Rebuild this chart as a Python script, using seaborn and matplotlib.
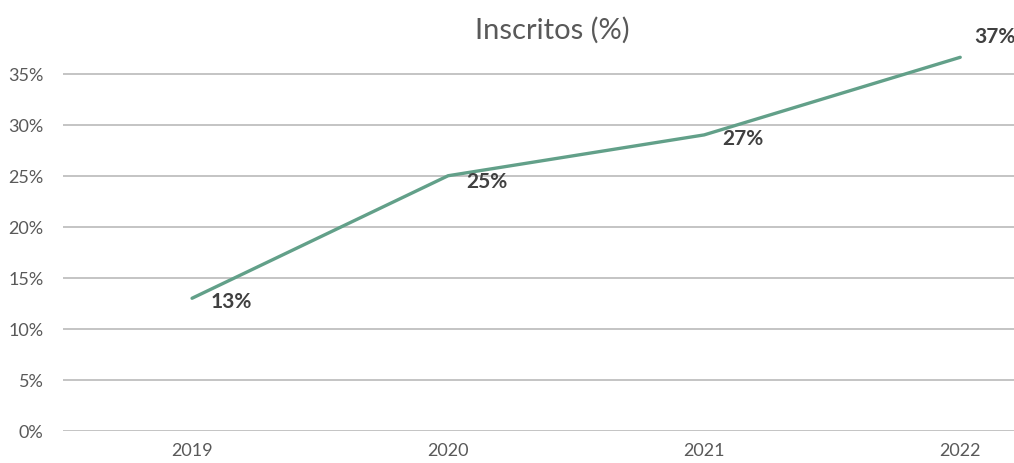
import matplotlib
matplotlib.use("Agg")
import matplotlib.pyplot as plt
import matplotlib.ticker as mtick
import seaborn as sns
import pandas as pd

years = ["2019", "2020", "2021", "2022"]
inscritos = [0.13, 0.25, 0.29, 0.366]
point_labels = ["13%", "25%", "27%", "37%"]

df = pd.DataFrame({"year": range(len(years)), "inscritos": inscritos})

sns.set_theme(style="white")
plt.rcParams["font.family"] = ["Lato", "DejaVu Sans"]

fig = plt.figure(figsize=(10.14, 4.64), dpi=100)
ax = fig.add_axes([63 / 1014, 32 / 464, 951 / 1014, 388 / 464])

sns.lineplot(data=df, x="year", y="inscritos", color="#62a089", linewidth=2.4, ax=ax)

ax.set_xlim(-0.504, 3.21)
ax.set_ylim(0, 0.38)
ax.set_xticks(range(len(years)))
ax.set_xticklabels(years)
ax.set_yticks([0, 0.05, 0.10, 0.15, 0.20, 0.25, 0.30, 0.35])
ax.yaxis.set_major_formatter(mtick.PercentFormatter(1.0, decimals=0))
ax.grid(axis="y", color="#bfbfbf", linewidth=1.3)
ax.set_axisbelow(True)
for s in ax.spines.values():
    s.set_visible(False)
ax.tick_params(axis="both", length=0, labelsize=13, labelcolor="#595959")
ax.tick_params(axis="y", pad=14)
ax.tick_params(axis="x", pad=8)
ax.set_xlabel("")
ax.set_ylabel("")

offsets = [(13, -2), (13, -4), (13, -2), (10, 15)]
for i, (val, lab) in enumerate(zip(inscritos, point_labels)):
    ax.annotate(lab, (i, val), xytext=offsets[i], textcoords="offset points",
                ha="left", va="center", fontsize=15, fontweight="bold",
                color="#404040", annotation_clip=False)

fig.text(552 / 1014, 1 - 30 / 464, "Inscritos (%)", ha="center", va="center",
         fontsize=21, color="#595959")

fig.savefig("out.png", dpi=100)
